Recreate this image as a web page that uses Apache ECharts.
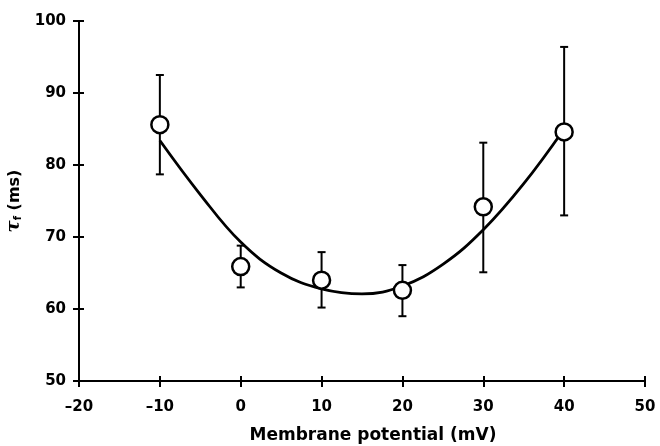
<!DOCTYPE html>
<html>
<head>
<meta charset="utf-8">
<script src="https://cdn.jsdelivr.net/npm/echarts@6/dist/echarts.min.js"></script>
<style>
  html, body { margin: 0; padding: 0; background: #fff; }
  #chart { width: 660px; height: 446px; }
</style>
</head>
<body>
<div id="chart"></div>
<script>
// measured points (mean with error bar ends)
const potentials = [-10, 0, 10, 20, 30, 40]
const tauMean = [85.6, 65.9, 64.0, 62.6, 74.2, 84.6]
const tauLow = [78.7, 63.0, 60.2, 59.0, 65.1, 73.0]
const tauHigh = [92.5, 68.8, 67.9, 66.1, 83.1, 96.4]

// fitted curve
const fitX = [-10, -5, 0, 5, 10, 15, 20, 25, 30, 35, 40]
const fitY = [83.4, 75.9, 69.3, 65.0, 62.8, 62.1, 63.2, 66.2, 71.0, 77.4, 85.0]

const font = 'DejaVu Sans, sans-serif'
const chart = echarts.init(document.getElementById('chart'))

const axisLine = { onZero: false, lineStyle: { color: '#000', width: 2 } }
const tickLabel = { color: '#000', fontFamily: font, fontWeight: 'bold', fontSize: 15 }

chart.setOption({
  animation: false,
  grid: { left: 79, right: 15, top: 21, bottom: 65, outerBoundsMode: 'none', containLabel: false },
  xAxis: [{
    type: 'value',
    min: -20, max: 50, interval: 10,
    name: 'Membrane potential (mV)',
    nameLocation: 'middle',
    nameGap: 46,
    nameTextStyle: { color: '#000', fontFamily: font, fontWeight: 'bold', fontSize: 17, padding: [0, 0, 0, 22] },
    axisLine: axisLine,
    axisTick: { length: 6, lineStyle: { color: '#000', width: 2 } },
    axisLabel: Object.assign({ margin: 19, formatter: v => v < 0 ? '\u2013' + Math.abs(v) : String(v) }, tickLabel),
    splitLine: { show: false }
  }, {
    type: 'value',
    position: 'bottom',
    min: -20, max: 50, interval: 10,
    axisLine: { show: false, onZero: false },
    axisTick: { inside: true, length: 5, lineStyle: { color: '#000', width: 2 } },
    axisLabel: { show: false },
    splitLine: { show: false }
  }],
  yAxis: [{
    type: 'value',
    min: 50, max: 100, interval: 10,
    name: '{t|\u03c4}{s|f} (ms)',
    nameLocation: 'middle',
    nameGap: 55,
    nameTextStyle: {
      color: '#000', fontFamily: font, fontWeight: 'bold', fontSize: 16,
      rich: {
        t: { fontFamily: 'DejaVu Serif', fontStyle: 'italic', fontSize: 18, color: '#000' },
        s: { fontFamily: font, fontWeight: 'bold', fontSize: 10, verticalAlign: 'bottom', padding: [8, 0, 0, 0], color: '#000' }
      }
    },
    axisLine: axisLine,
    axisTick: { length: 6, lineStyle: { color: '#000', width: 2 } },
    axisLabel: Object.assign({ margin: 13 }, tickLabel),
    splitLine: { show: false }
  }, {
    type: 'value',
    position: 'left',
    min: 50, max: 100, interval: 10,
    axisLine: { show: false, onZero: false },
    axisTick: { inside: true, length: 5, lineStyle: { color: '#000', width: 2 } },
    axisLabel: { show: false },
    splitLine: { show: false }
  }],
  series: [
    {
      name: 'fit',
      type: 'line',
      smooth: 0.4,
      showSymbol: false,
      data: fitX.map((x, i) => [x, fitY[i]]),
      lineStyle: { color: '#000', width: 2.8 },
      z: 2
    },
    {
      name: 'error',
      type: 'custom',
      data: potentials.map((x, i) => [x, tauLow[i], tauHigh[i]]),
      renderItem: (params, api) => {
        const lo = api.coord([api.value(0), api.value(1)])
        const hi = api.coord([api.value(0), api.value(2)])
        const cap = 4
        const style = { stroke: '#000', lineWidth: 2 }
        return {
          type: 'group',
          children: [
            { type: 'line', shape: { x1: lo[0], y1: lo[1], x2: hi[0], y2: hi[1] }, style: style },
            { type: 'line', shape: { x1: lo[0] - cap, y1: lo[1], x2: lo[0] + cap, y2: lo[1] }, style: style },
            { type: 'line', shape: { x1: hi[0] - cap, y1: hi[1], x2: hi[0] + cap, y2: hi[1] }, style: style }
          ]
        }
      },
      z: 3
    },
    {
      name: 'mean',
      type: 'scatter',
      symbol: 'circle',
      symbolSize: 17,
      data: potentials.map((x, i) => [x, tauMean[i]]),
      itemStyle: { color: '#fff', borderColor: '#000', borderWidth: 2.5, opacity: 1 },
      z: 4
    }
  ]
})
</script>
</body>
</html>
